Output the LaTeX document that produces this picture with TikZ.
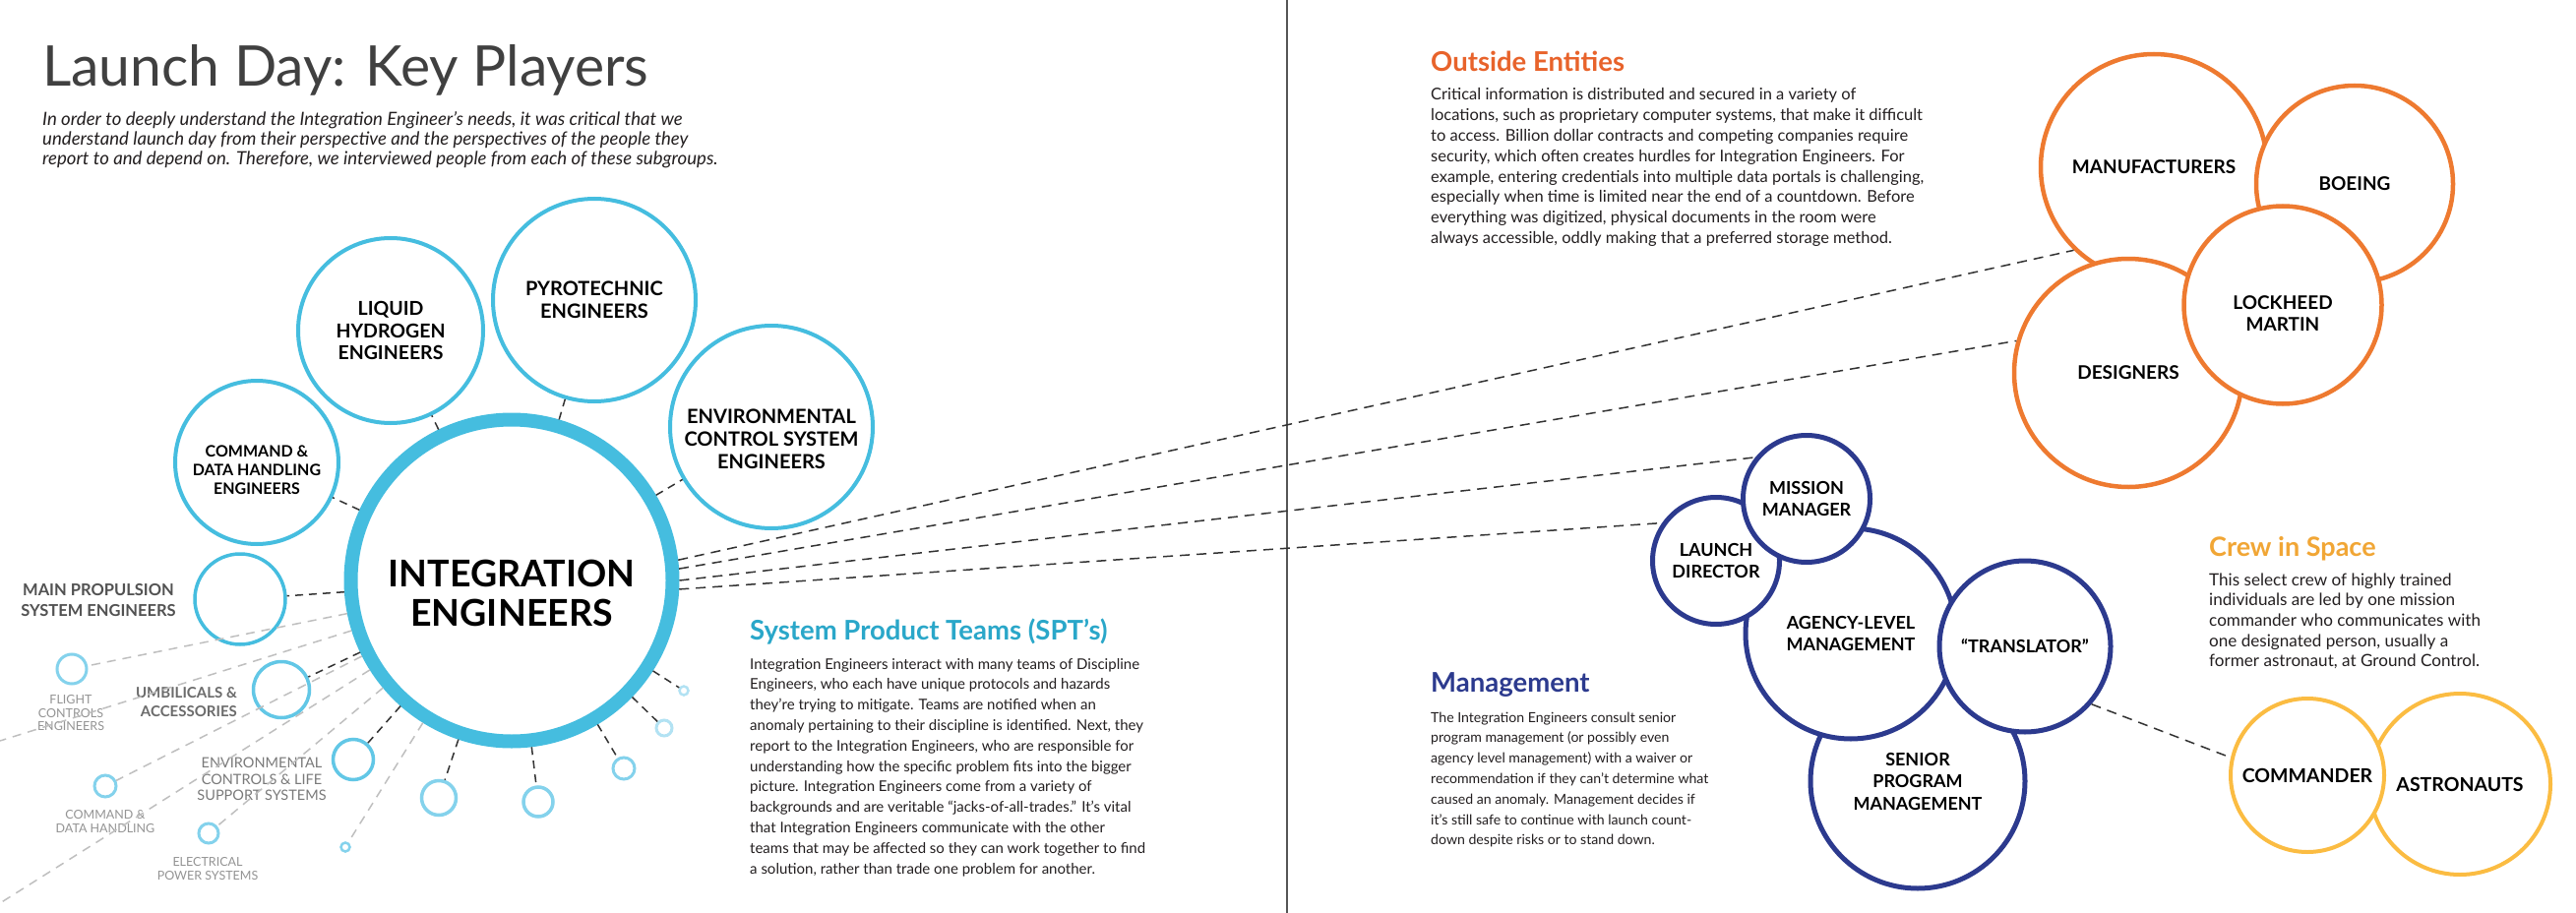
\documentclass[tikz,border=0pt]{standalone}
\usepackage{fontspec}
\setmainfont{Lato}
\usetikzlibrary{positioning}
\definecolor{KpBlue}{HTML}{45BDDF}
\definecolor{KpBlueMid}{HTML}{62C7E6}
\definecolor{KpBlueLt}{HTML}{84D2EC}
\definecolor{KpBluePale}{HTML}{B2E2F3}
\definecolor{KpTeal}{HTML}{2AA7C9}
\definecolor{KpOrange}{HTML}{EE7A30}
\definecolor{KpOrangeHd}{HTML}{E8632B}
\definecolor{KpNavy}{HTML}{2C3A8E}
\definecolor{KpYellow}{HTML}{FBBC42}
\definecolor{KpYellowHd}{HTML}{F1A635}
\definecolor{KpInk}{HTML}{231F20}
\definecolor{KpRule}{HTML}{555555}
\newcommand{\fsz}[2]{\fontsize{#1}{#2}\selectfont}
\newcommand{\textlines}[1]{\begin{tabular}[t]{@{}l@{}}#1\end{tabular}}
\tikzset{
  bodytext/.style={anchor=base west, inner sep=0pt, text=KpInk, font=\fsz{15}{20.8}},
  headtext/.style={anchor=base west, inner sep=0pt, font=\bfseries\fsz{27.5}{30}},
  bluering/.style={circle, draw=KpBlue, line width=4pt, fill=white, inner sep=0pt,
    minimum size=#1, align=center, text=black},
  dotring/.style={circle, draw=#1, line width=3.5pt, inner sep=0pt},
  orangering/.style={circle, draw=KpOrange, line width=4.5pt, fill=white, inner sep=0pt,
    minimum size=#1, align=center, font=\bfseries\fsz{19}{22}},
  navyring/.style={circle, draw=KpNavy, line width=5pt, fill=white, inner sep=0pt,
    minimum size=#1, align=center, font=\bfseries\fsz{18}{22.5}},
  crewring/.style={circle, draw=KpYellow, line width=4pt, fill=white, inner sep=0pt,
    minimum size=#1, align=center, font=\bfseries\fsz{19.5}{22}},
  ringtext/.style={align=center, inner sep=0pt, text=black},
  grouplabel/.style={align=center, inner sep=0pt},
  tie/.style={dash pattern=on 8pt off 6pt, line width=1.5pt, draw=black!80},
  faintie/.style={dash pattern=on 9pt off 7pt, line width=1.5pt, draw=black!25}
}
\begin{document}
\begin{tikzpicture}[x=1pt,y=-1pt]
  \useasboundingbox (0,0) rectangle (2618,928);
  \fill[white] (0,0) rectangle (2618,928);
  %% Page divider
  \draw[KpRule, line width=1.2pt] (1308,0) -- (1308,928);

  %% Header
  \node[anchor=base west, inner sep=0pt, font=\fsz{57}{60}, text=black!75] (title) at (43,88)
    {Launch Day: Key Players};
  \node[anchor=base west, inner sep=0pt, font=\itshape\fsz{18.6}{20}, text=KpInk] (intro) at (43,128)
    {\textlines{In order to deeply understand the Integration Engineer’s needs, it was critical that we\\
     understand launch day from their perspective and the perspectives of the people they\\
     report to and depend on. Therefore, we interviewed people from each of these subgroups.}};

  %% Discipline engineers around the hub
  \node[bluering=166, label={[ringtext, font=\bfseries\fsz{16}{19}, yshift=-8pt]center:COMMAND \&\\DATA HANDLING\\ENGINEERS}] (cdhe) at (261,470) {};
  \node[bluering=188, font=\bfseries\fsz{19.5}{22.5}] (lhe) at (397,336) {LIQUID\\HYDROGEN\\ENGINEERS};
  \node[bluering=206, font=\bfseries\fsz{20}{23}] (pyro) at (604,305) {PYROTECHNIC\\ENGINEERS};
  \node[bluering=206, label={[ringtext, font=\bfseries\fsz{20}{23}, yshift=-12pt]center:ENVIRONMENTAL\\CONTROL SYSTEM\\ENGINEERS}] (ecse) at (784,434) {};
  \node[bluering=92, line width=3.5pt] (mpse) at (244,609) {};
  \node[bluering=327, line width=14pt, label={[ringtext, font=\bfseries\fsz{37.5}{40}, yshift=-13pt]center:INTEGRATION\\ENGINEERS}] (ie) at (520,590) {};

  %% Smaller teams
  \node[dotring=KpBlueMid, minimum size=57] (umb) at (286,701) {};
  \node[dotring=KpBlueMid, minimum size=41] (eclss) at (359,772) {};
  \node[dotring=KpBlueLt, minimum size=35] (sptA) at (446,811) {};
  \node[dotring=KpBlueLt, minimum size=30] (sptB) at (547,815) {};
  \node[dotring=KpBlueLt, minimum size=22, line width=3pt] (sptC) at (634,781) {};
  \node[dotring=KpBluePale, minimum size=16, line width=3pt] (sptD) at (675,740) {};
  \node[dotring=KpBluePale, minimum size=9, line width=2.5pt] (sptE) at (695,702) {};
  \node[dotring=KpBlueLt, minimum size=30, line width=3pt] (fce) at (73,680) {};
  \node[dotring=KpBlueLt, minimum size=22, line width=3pt] (cdh) at (107,799) {};
  \node[dotring=KpBlueLt, minimum size=20, line width=3pt] (eps) at (212,847) {};
  \node[dotring=KpBlueLt, minimum size=9, line width=2.5pt] (sptF) at (351,861) {};
  \coordinate (edgeA) at (0,753);
  \coordinate (edgeB) at (0,918);

  %% Team labels
  \node[grouplabel, font=\bfseries\fsz{16.5}{21}, text=black!68] (mpsel) at (100,610) {MAIN PROPULSION\\SYSTEM ENGINEERS};
  \node[grouplabel, align=right, anchor=east, font=\bfseries\fsz{15}{19}, text=black!58] (umbl) at (241,714) {UMBILICALS \&\\ACCESSORIES};
  \node[grouplabel, font=\fsz{12.5}{13.5}, text=black!42] (fcel) at (72,725) {FLIGHT\\CONTROLS\\ENGINEERS};
  \node[grouplabel, font=\fsz{12.5}{14}, text=black!42] (cdhl) at (107,835) {COMMAND \&\\DATA HANDLING};
  \node[grouplabel, font=\fsz{14.5}{16.7}, text=black!52] (eclssl) at (266,792) {ENVIRONMENTAL\\CONTROLS \& LIFE\\SUPPORT SYSTEMS};
  \node[grouplabel, font=\fsz{12.5}{14}, text=black!42] (epsl) at (211,883) {ELECTRICAL\\POWER SYSTEMS};

  %% Hub ties
  \foreach \t in {cdhe, lhe, pyro, ecse, mpse, umb, eclss, sptA, sptB, sptC, sptD, sptE}
    \draw[tie] (ie) -- (\t);
  \foreach \t in {fce, cdh, eps, sptF}
    \draw[faintie] (ie) -- (\t);
  \draw[faintie] (ie) -- (edgeA);
  \draw[faintie] (ie) -- (edgeB);

  %% System Product Teams text
  \node[headtext, text=KpTeal] (spth) at (762,650) {System Product Teams (SPT’s)};
  \node[bodytext] (sptb) at (762,680)
    {\textlines{Integration Engineers interact with many teams of Discipline\\
     Engineers, who each have unique protocols and hazards\\
     they’re trying to mitigate. Teams are notified when an\\
     anomaly pertaining to their discipline is identified. Next, they\\
     report to the Integration Engineers, who are responsible for\\
     understanding how the specific problem fits into the bigger\\
     picture. Integration Engineers come from a variety of\\
     backgrounds and are veritable “jacks-of-all-trades.” It’s vital\\
     that Integration Engineers communicate with the other\\
     teams that may be affected so they can work together to find\\
     a solution, rather than trade one problem for another.}};

  %% Outside entities
  \node[headtext, text=KpOrangeHd] (oeh) at (1454,73) {Outside Entities};
  \node[bodytext, font=\fsz{16.5}{20.8}] (oeb) at (1454,102)
    {\textlines{Critical information is distributed and secured in a variety of\\
     locations, such as proprietary computer systems, that make it difficult\\
     to access. Billion dollar contracts and competing companies require\\
     security, which often creates hurdles for Integration Engineers. For\\
     example, entering credentials into multiple data portals is challenging,\\
     especially when time is limited near the end of a countdown. Before\\
     everything was digitized, physical documents in the room were\\
     always accessible, oddly making that a preferred storage method.}};
  \node[orangering=230] (mfr) at (2189,170) {MANUFACTURERS};
  \node[orangering=200] (boe) at (2393,187) {BOEING};
  \node[orangering=232] (des) at (2163,379) {DESIGNERS};
  \node[orangering=201, label={[ringtext, font=\bfseries\fsz{19}{22}, yshift=-9pt]center:LOCKHEED\\MARTIN}] (lm) at (2320,310) {};

  %% Management
  \node[headtext, text=KpNavy] (mgh) at (1454,703) {Management};
  \node[bodytext, font=\fsz{14.1}{20.8}] (mgb) at (1454,734)
    {\textlines{The Integration Engineers consult senior\\
     program management (or possibly even\\
     agency level management) with a waiver or\\
     recommendation if they can’t determine what\\
     caused an anomaly. Management decides if\\
     it’s still safe to continue with launch count-\\
     down despite risks or to stand down.}};
  \node[navyring=218] (spm) at (1949,794) {SENIOR\\PROGRAM\\MANAGEMENT};
  \node[navyring=214] (alm) at (1881,644) {AGENCY-LEVEL\\MANAGEMENT};
  \node[navyring=174] (trans) at (2058,657) {“TRANSLATOR”};
  \node[navyring=129] (ld) at (1744,570) {LAUNCH\\DIRECTOR};
  \node[navyring=129] (mm) at (1836,507) {MISSION\\MANAGER};

  %% Crew in space
  \node[headtext, text=KpYellowHd, font=\bfseries\fsz{27}{30}] (crh) at (2245,565) {Crew in Space};
  \node[bodytext, font=\fsz{17.1}{20.7}] (crb) at (2245,595)
    {\textlines{This select crew of highly trained\\
     individuals are led by one mission\\
     commander who communicates with\\
     one designated person, usually a\\
     former astronaut, at Ground Control.}};
  \node[crewring=184] (asn) at (2500,797) {ASTRONAUTS};
  \node[crewring=156] (cmd) at (2345,788) {COMMANDER};

  %% Long ties
  \draw[tie, dash pattern=on 10pt off 7pt] (ie.7) -- (mfr.226);
  \draw[tie, dash pattern=on 10pt off 7pt] (ie.4) -- (des.164);
  \draw[tie, dash pattern=on 10pt off 7pt] (ie.0) -- (mm.141);
  \draw[tie, dash pattern=on 10pt off 7pt] (ie.-3) -- (ld.145);
  \draw[tie, dash pattern=on 10pt off 7pt] (trans.-41) -- (cmd.167);
\end{tikzpicture}
\end{document}
